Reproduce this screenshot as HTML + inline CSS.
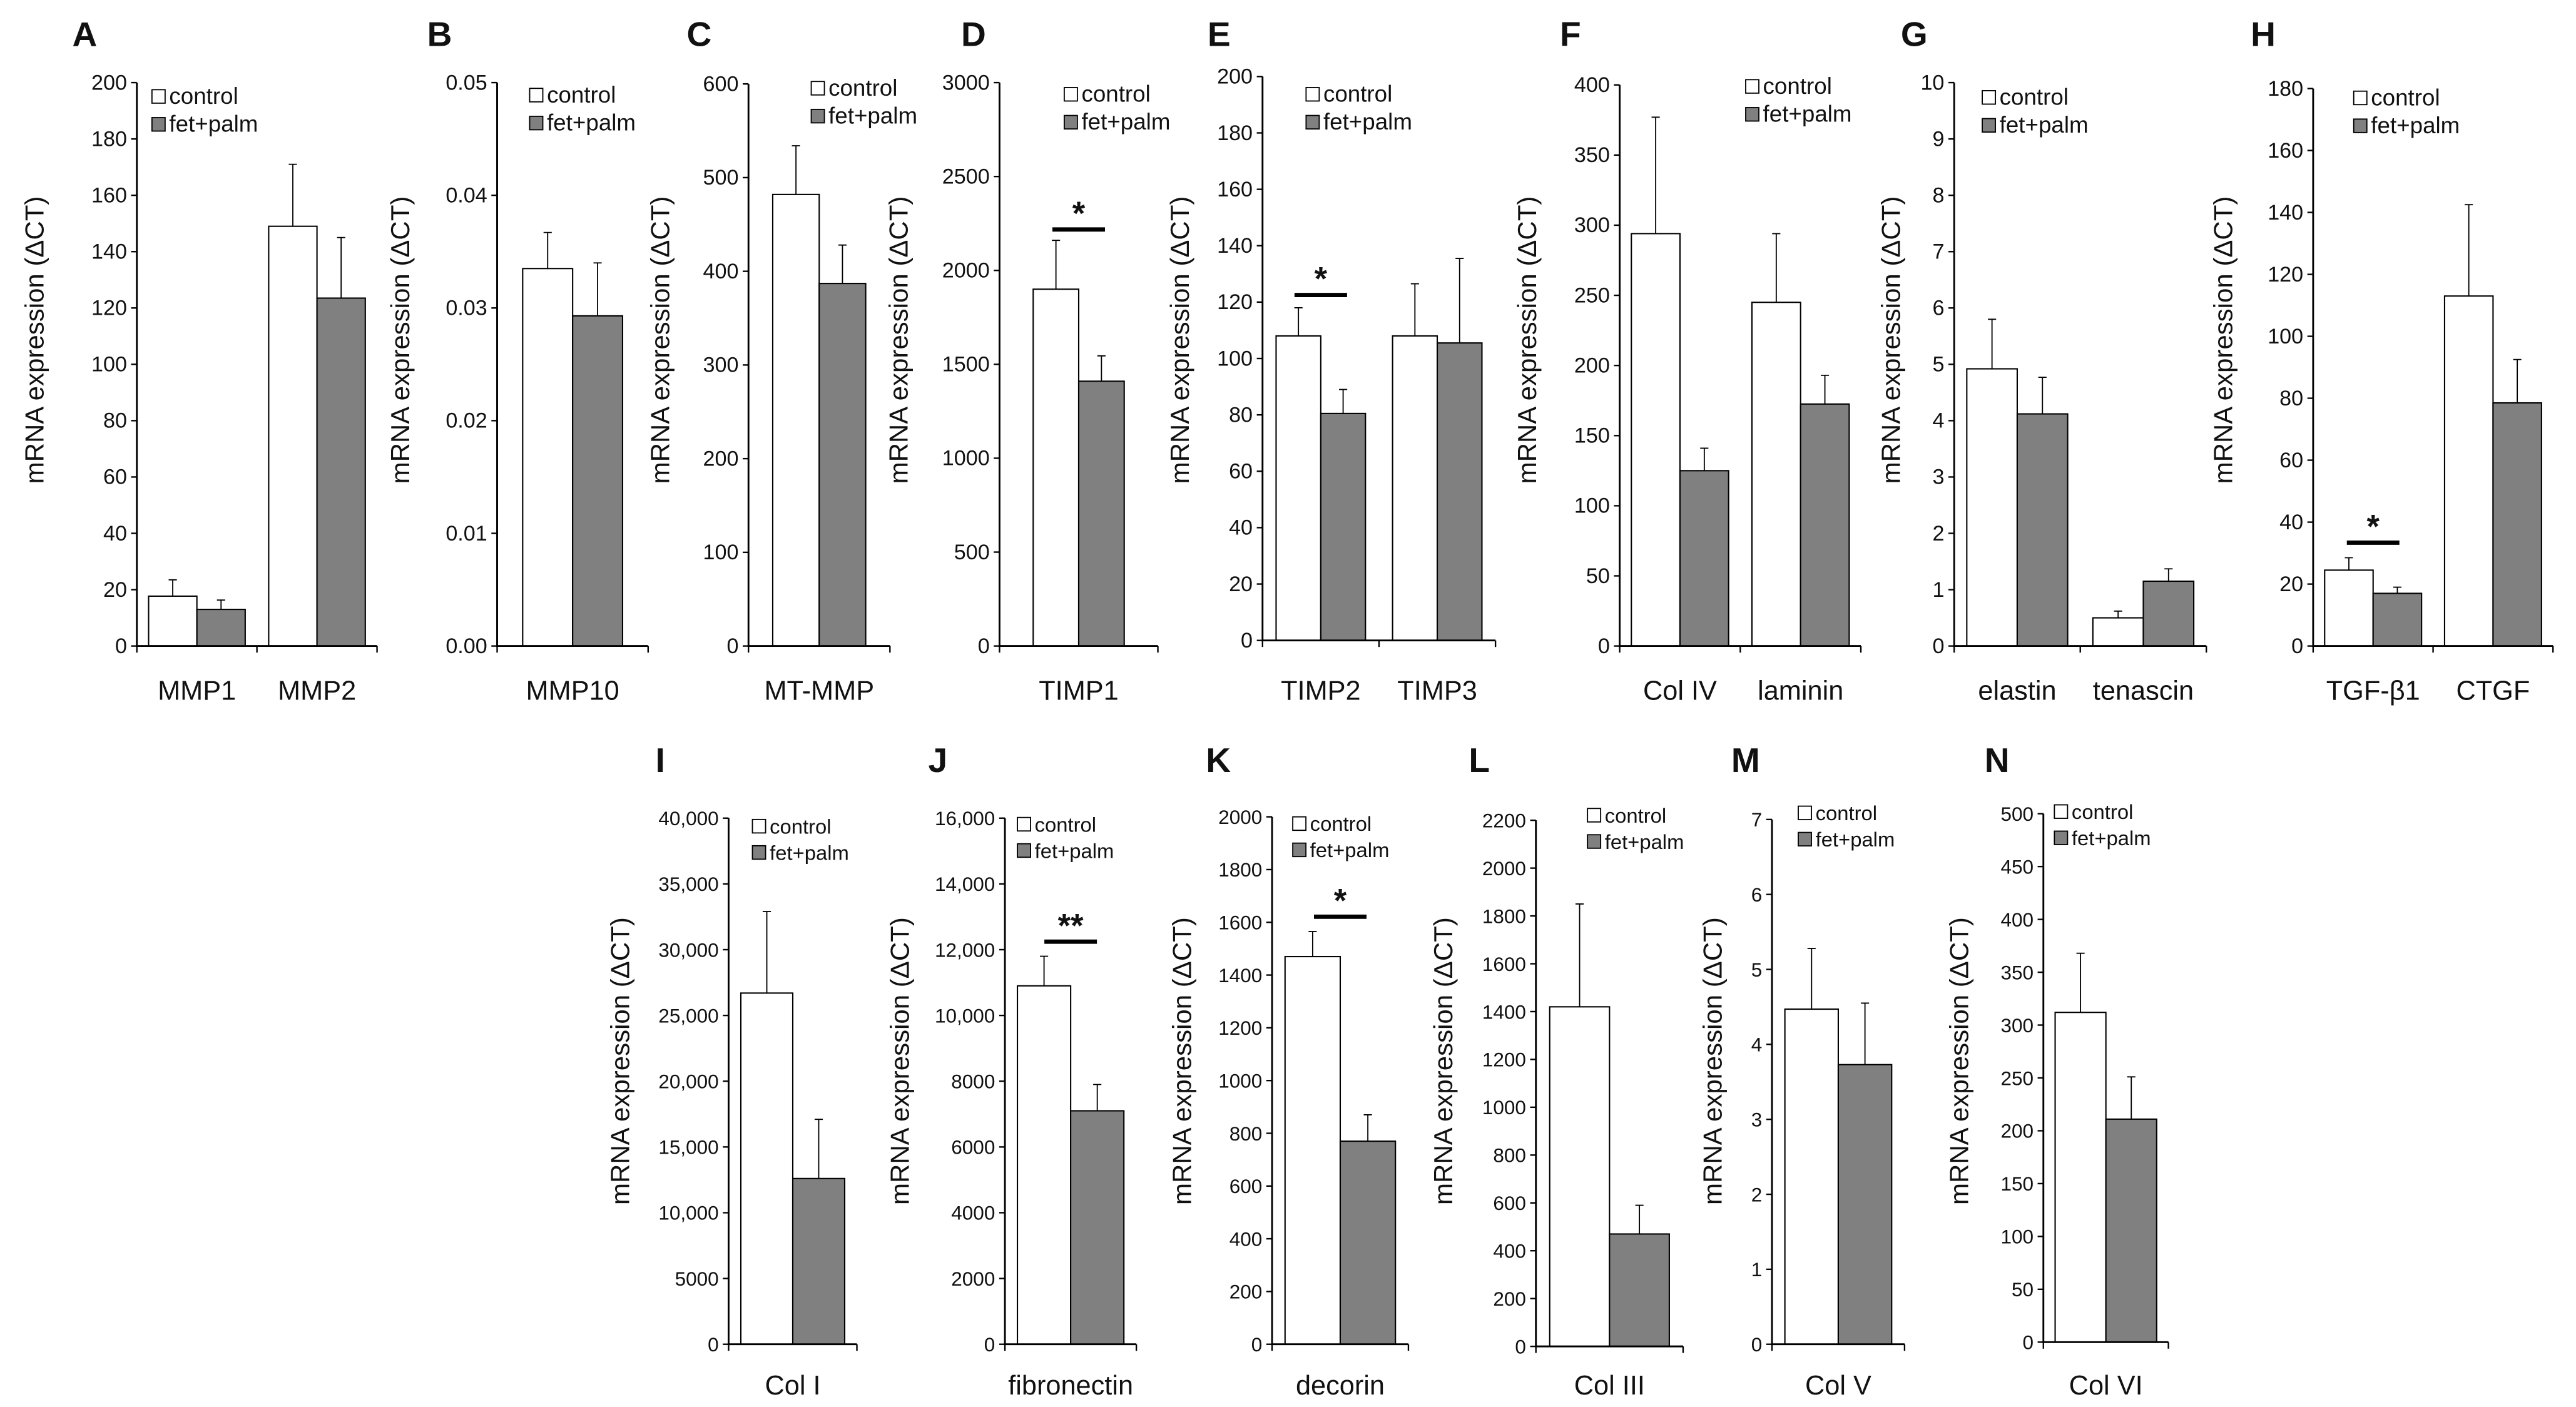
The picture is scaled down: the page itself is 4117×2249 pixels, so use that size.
<!DOCTYPE html>
<html><head><meta charset="utf-8"><style>
html,body{margin:0;padding:0;background:#fff;}
svg{display:block;}
text{font-family:"Liberation Sans",sans-serif;fill:#111;}
</style></head><body>
<svg id="fig" width="4117" height="2249" viewBox="0 0 1568 856.6" preserveAspectRatio="none" xmlns="http://www.w3.org/2000/svg"></svg>
<script>
// ---- data ----
const catsA=['MMP1','MMP2'];const ctrlA=[17.7,149];const fetA=[13,123.5];const ctrlErrA=[23.5,171];const fetErrA=[16.3,145];
const catsB=['MMP10'];const ctrlB=[0.0335];const fetB=[0.0293];const ctrlErrB=[0.0367];const fetErrB=[0.034];
const catsC=['MT-MMP'];const ctrlC=[482];const fetC=[387];const ctrlErrC=[534];const fetErrC=[428];
const catsD=['TIMP1'];const ctrlD=[1900];const fetD=[1410];const ctrlErrD=[2160];const fetErrD=[1545];
const catsE=['TIMP2','TIMP3'];const ctrlE=[108,108];const fetE=[80.5,105.5];const ctrlErrE=[118,126.5];const fetErrE=[89,135.5];
const catsF=['Col IV','laminin'];const ctrlF=[294,245];const fetF=[125,172.5];const ctrlErrF=[377,294];const fetErrF=[141,193];
const catsG=['elastin','tenascin'];const ctrlG=[4.92,0.5];const fetG=[4.12,1.15];const ctrlErrG=[5.8,0.62];const fetErrG=[4.77,1.37];
const catsH=['TGF-β1','CTGF'];const ctrlH=[24.5,113];const fetH=[17,78.5];const ctrlErrH=[28.5,142.5];const fetErrH=[19,92.5];
const catsI=['Col I'];const ctrlI=[26700];const fetI=[12600];const ctrlErrI=[32900];const fetErrI=[17100];
const catsJ=['fibronectin'];const ctrlJ=[10900];const fetJ=[7100];const ctrlErrJ=[11800];const fetErrJ=[7900];
const catsK=['decorin'];const ctrlK=[1470];const fetK=[770];const ctrlErrK=[1565];const fetErrK=[870];
const catsL=['Col III'];const ctrlL=[1420];const fetL=[470];const ctrlErrL=[1850];const fetErrL=[590];
const catsM=['Col V'];const ctrlM=[4.47];const fetM=[3.73];const ctrlErrM=[5.28];const fetErrM=[4.55];
const catsN=['Col VI'];const ctrlN=[312];const fetN=[211];const ctrlErrN=[368];const fetErrN=[251];
const maxA=200,stepA=20,maxB=0.05,stepB=0.01,maxC=600,stepC=100,maxD=3000,stepD=500,maxE=200,stepE=20,maxF=400,stepF=50,maxG=10,stepG=1,maxH=180,stepH=20;
const maxI=40000,stepI=5000,maxJ=16000,stepJ=2000,maxK=2000,stepK=200,maxL=2200,stepL=200,maxM=7,stepM=1,maxN=500,stepN=50;
const sigD=['*'],sigE=['*',''],sigH=['*',''],sigJ=['**'],sigK=['*'];

// ---- layout ----
const panels=[
 {id:'A',cats:catsA,c:ctrlA,f:fetA,ce:ctrlErrA,fe:fetErrA,max:maxA,step:stepA,x0:83.3,x1:229.5,bw:29.4,top:50.3,zero:393.3,lx:92.5,ly:58.6,tx:20.4,letX:44,dec:0},
 {id:'B',cats:catsB,c:ctrlB,f:fetB,ce:ctrlErrB,fe:fetErrB,max:maxB,step:stepB,x0:302.6,x1:394.5,bw:30.4,top:50.3,zero:393.3,lx:322.4,ly:57.8,tx:243,letX:260,dec:2},
 {id:'C',cats:catsC,c:ctrlC,f:fetC,ce:ctrlErrC,fe:fetErrC,max:maxC,step:stepC,x0:455.6,x1:541.7,bw:28.3,top:51.1,zero:393.3,lx:493.8,ly:53.6,tx:401.3,letX:418,dec:0},
 {id:'D',cats:catsD,c:ctrlD,f:fetD,ce:ctrlErrD,fe:fetErrD,max:maxD,step:stepD,x0:608.4,x1:704.8,bw:27.7,top:50.3,zero:393.3,lx:647.8,ly:57.3,tx:546.5,letX:585,dec:0,sig:sigD,sigY:139.7},
 {id:'E',cats:catsE,c:ctrlE,f:fetE,ce:ctrlErrE,fe:fetErrE,max:maxE,step:stepE,x0:768.5,x1:910.3,bw:27.2,top:46.6,zero:389.9,lx:795,ly:57.3,tx:717.6,letX:735,dec:0,sig:sigE,sigY:179.6},
 {id:'F',cats:catsF,c:ctrlF,f:fetF,ce:ctrlErrF,fe:fetErrF,max:maxF,step:stepF,x0:985.9,x1:1132.7,bw:29.6,top:51.7,zero:393.3,lx:1062.6,ly:52.5,tx:929,letX:949.5,dec:0},
 {id:'G',cats:catsG,c:ctrlG,f:fetG,ce:ctrlErrG,fe:fetErrG,max:maxG,step:stepG,x0:1189.5,x1:1343,bw:30.7,top:50.3,zero:393.3,lx:1206.6,ly:59.2,tx:1150.4,letX:1157,dec:0},
 {id:'H',cats:catsH,c:ctrlH,f:fetH,ce:ctrlErrH,fe:fetErrH,max:maxH,step:stepH,x0:1408,x1:1554,bw:29.5,top:53.9,zero:393.3,lx:1432.7,ly:59.5,tx:1352.8,letX:1370,dec:0,sig:sigH,sigY:330.4},
 {id:'I',cats:catsI,c:ctrlI,f:fetI,ce:ctrlErrI,fe:fetErrI,max:maxI,step:stepI,x0:443.5,x1:521.6,bw:31.6,top:498.1,zero:818.4,lx:458,ly:502.9,tx:377,letX:399,dec:0,comma:true},
 {id:'J',cats:catsJ,c:ctrlJ,f:fetJ,ce:ctrlErrJ,fe:fetErrJ,max:maxJ,step:stepJ,x0:611.7,x1:691.7,bw:32.4,top:498.1,zero:818.4,lx:619.3,ly:501.7,tx:547.2,letX:565,dec:0,comma:true,sig:sigJ,sigY:573.3},
 {id:'K',cats:catsK,c:ctrlK,f:fetK,ce:ctrlErrK,fe:fetErrK,max:maxK,step:stepK,x0:774.3,x1:857.3,bw:33.6,top:497.3,zero:818.4,lx:786.9,ly:501.3,tx:718.9,letX:734,dec:0,sig:sigK,sigY:558.1},
 {id:'L',cats:catsL,c:ctrlL,f:fetL,ce:ctrlErrL,fe:fetErrL,max:maxL,step:stepL,x0:934.9,x1:1024.5,bw:36.4,top:499.4,zero:819.7,lx:966.3,ly:496.2,tx:878,letX:894,dec:0},
 {id:'M',cats:catsM,c:ctrlM,f:fetM,ce:ctrlErrM,fe:fetErrM,max:maxM,step:stepM,x0:1078.6,x1:1159.3,bw:32.5,top:498.9,zero:818.4,lx:1094.6,ly:494.8,tx:1042,letX:1053.8,dec:0},
 {id:'N',cats:catsN,c:ctrlN,f:fetN,ce:ctrlErrN,fe:fetErrN,max:maxN,step:stepN,x0:1243.8,x1:1319.9,bw:30.9,top:495.4,zero:817.1,lx:1250.5,ly:494,tx:1192,letX:1208,dec:0}
];
const NS='http://www.w3.org/2000/svg';
const svg=document.getElementById('fig');
function mk(tag,attrs,parent,txt){const e=document.createElementNS(NS,tag);for(const k in attrs)e.setAttribute(k,attrs[k]);if(txt!==undefined)e.textContent=txt;(parent||svg).appendChild(e);return e;}
function fmt(v,p){if(p.dec)return v.toFixed(p.dec);if(p.comma&&v>=10000)return v.toLocaleString('en-US');return String(Math.round(v));}

panels.forEach(p=>{
  const bottom=p.zero>600;
  const g=mk('g',{});
  
  
  const y=v=>p.zero-(v/p.max)*(p.zero-p.top);
  const cw=(p.x1-p.x0)/p.cats.length;
  // letter
  const L=mk('text',{x:p.letX,y:bottom?470:28,'font-size':21,'font-weight':'bold'},g,p.id);
  
  
  // y ticks
  for(let v=0;v<=p.max+1e-9;v+=p.step){
    const yy=y(v);
    const t=mk('line',{x1:p.x0-3.5,x2:p.x0,y1:yy,y2:yy,stroke:'#000','stroke-width':0.9},g);
    
    
    const tl=mk('text',{x:p.x0-6,y:yy+4.3,'font-size':bottom?12:13,'text-anchor':'end'},g,fmt(v,p));
    
    
  }
  // axis title
  const cy=bottom?646:207;
  const at=mk('text',{x:p.tx,y:cy,'font-size':16,'text-anchor':'middle',transform:`rotate(-90 ${p.tx} ${cy})`,dy:6},g,'mRNA expression (ΔCT)');
  
  
  // bars
  p.cats.forEach((c,i)=>{
    const cx=p.x0+cw*(i+0.5);
    [[p.c[i],p.ce[i],'#fff','control'],[p.f[i],p.fe[i],'#808080','fet-palm']].forEach((s,j)=>{
      const bx=cx-p.bw+j*p.bw;
      const r=mk('rect',{x:bx,y:y(s[0]),width:p.bw,height:p.zero-y(s[0]),fill:s[2],stroke:'#000','stroke-width':0.8},g);
      
      
      const ex=bx+p.bw/2;
      const el=mk('path',{d:`M${ex},${y(s[0])}V${y(s[1])}M${ex-2.5},${y(s[1])}H${ex+2.5}`,stroke:'#000','stroke-width':0.7,fill:'none'},g);
      
      
    });
    const cl=mk('text',{x:cx,y:bottom?849:426,'font-size':16.5,'text-anchor':'middle'},g,c);
    
    
    if(p.sig&&p.sig[i]){
      const sl=mk('line',{x1:cx-16,x2:cx+16,y1:p.sigY,y2:p.sigY,stroke:'#000','stroke-width':2.6},g);
      
      
      const st=mk('text',{x:cx,y:p.sigY-3,'font-size':20,'text-anchor':'middle','font-weight':'bold'},g,p.sig[i]);
      
      
    }
  });
  // axes
  const ax=mk('path',{d:`M${p.x0},${p.top}V${p.zero}H${p.x1}`,stroke:'#000','stroke-width':1.1,fill:'none'},g);
  
  
  for(let i=0;i<=p.cats.length;i++){
    const xx=p.x0+cw*i;
    const xt=mk('line',{x1:xx,x2:xx,y1:p.zero,y2:p.zero+4,stroke:'#000','stroke-width':0.9},g);
    
    
  }
  // legend
  const fs=bottom?12.5:14;
  const lg=mk('g',{},g);
  
  
  [['control','#fff',0],['fet+palm','#808080',bottom?16:17]].forEach(e=>{
    const b=mk('rect',{x:p.lx,y:p.ly+e[2]-4,width:8,height:8.2,fill:e[1],stroke:'#000','stroke-width':0.7},lg);
    
    
    const t=mk('text',{x:p.lx+10.5,y:p.ly+e[2]+4.6,'font-size':fs},lg,e[0]);
    
    
  });
});
</script>
</body></html>
